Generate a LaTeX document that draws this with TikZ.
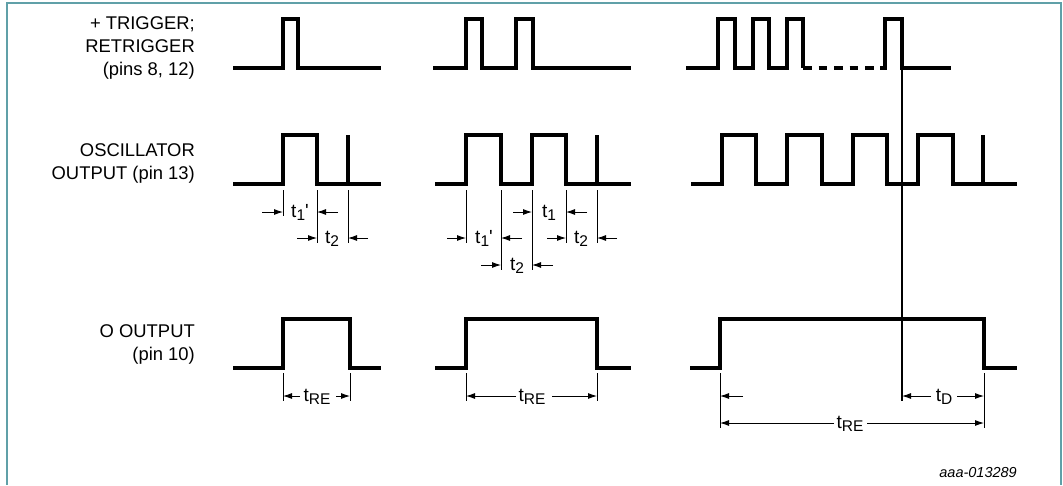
\documentclass[tikz,border=0pt]{standalone}
\usepackage{fontspec}
\setmainfont{Liberation Sans}
\usetikzlibrary{arrows.meta}
\definecolor{framecol}{RGB}{96,160,168}
\newcommand{\tsub}[2][]{t\raisebox{-3.5pt}{\fontsize{15.5}{15.5}\selectfont #2}#1}
\tikzset{
  wave/.style={line width=3.1pt},
  dimline/.style={line width=0.9pt},
  dimarrow/.style={dimline, -{Latex[length=9pt,width=6pt]}},
  sigtext/.style={font=\fontsize{18.4}{23}\selectfont, align=right, anchor=north east, inner sep=0pt},
  tlabel/.style={font=\fontsize{19}{20}\selectfont, anchor=base, inner sep=0pt},
}
\begin{document}
\begin{tikzpicture}[x=1pt,y=-1pt]
\useasboundingbox (0,0) rectangle (1063,485);
% frame
\draw[framecol, line width=1.5pt] (7,485) -- (7,3) -- (1061,3) -- (1061,485);
% signal names
\node[sigtext] (trig) at (195,16) {+ TRIGGER;\\RETRIGGER\\(pins 8, 12)};
\node[sigtext] (osc) at (195,143) {OSCILLATOR\\OUTPUT (pin 13)};
\node[sigtext] (qout) at (195,324) {O OUTPUT\\(pin 10)};
% trigger, left
\draw[wave] (233,68) -- (283,68) -- (283,19) -- (298,19) -- (298,68) -- (381,68);
% trigger, middle
\draw[wave] (433,68) -- (466,68) -- (466,19) -- (482,19) -- (482,68) -- (516,68)
  -- (516,19) -- (533,19) -- (533,68) -- (631,68);
% trigger, right
\draw[wave] (686,68) -- (718,68) -- (718,19) -- (735,19) -- (735,68) -- (753,68)
  -- (753,19) -- (769,19) -- (769,68) -- (787,68) -- (787,19) -- (803,19) -- (803,68);
\draw[wave, dash pattern=on 8.5pt off 7pt] (803,68) -- (885,68);
\draw[wave] (880,68) -- (885,68) -- (885,19) -- (902,19) -- (902,68) -- (951,68);
% oscillator, left
\draw[wave] (233,184) -- (283,184) -- (283,135) -- (317,135) -- (317,184) -- (381,184);
\draw[wave] (348,184) -- (348,135);
% oscillator, middle
\draw[wave] (435,184) -- (466,184) -- (466,135) -- (501,135) -- (501,184) -- (532,184)
  -- (532,135) -- (566,135) -- (566,184) -- (631,184);
\draw[wave] (597,184) -- (597,135);
% oscillator, right
\draw[wave] (691,184) -- (722,184) -- (722,135) -- (756,135) -- (756,184) -- (787,184)
  -- (787,135) -- (822,135) -- (822,184) -- (853,184) -- (853,135) -- (887,135)
  -- (887,184) -- (918,184) -- (918,135) -- (953,135) -- (953,184) -- (1017,184);
\draw[wave] (983,184) -- (983,135);
% Q output
\draw[wave] (233,368) -- (283,368) -- (283,319) -- (350,319) -- (350,368) -- (381,368);
\draw[wave] (435,368) -- (466,368) -- (466,319) -- (597,319) -- (597,368) -- (631,368);
\draw[wave] (690,368) -- (720,368) -- (720,319) -- (984,319) -- (984,368) -- (1017,368);
% last trigger to end of output
\draw[line width=1.1pt] (902,70) -- (902,401);
% times, left oscillator
\draw[dimline] (283,190) -- (283,216);
\draw[dimline] (317,190) -- (317,243);
\draw[dimline] (348,190) -- (348,243);
\node[tlabel] (t1l) at (300,217) {\tsub[\textquotesingle]{1}};
\draw[dimarrow] (262,212) -- (283,212);
\draw[dimarrow] (338,212) -- (317,212);
\node[tlabel] (t2l) at (332,243) {\tsub{2}};
\draw[dimarrow] (297,238) -- (317,238);
\draw[dimarrow] (368,238) -- (348,238);
% times, middle oscillator
\draw[dimline] (466,190) -- (466,243);
\draw[dimline] (501,190) -- (501,270);
\draw[dimline] (532,190) -- (532,270);
\draw[dimline] (566,190) -- (566,243);
\draw[dimline] (597,190) -- (597,243);
\node[tlabel] (t1m) at (549,217) {\tsub{1}};
\draw[dimarrow] (513,212) -- (532,212);
\draw[dimarrow] (587,212) -- (566,212);
\node[tlabel] (t1pm) at (484,243) {\tsub[\textquotesingle]{1}};
\draw[dimarrow] (447,238) -- (466,238);
\draw[dimarrow] (522,238) -- (501,238);
\node[tlabel] (t2m) at (581,243) {\tsub{2}};
\draw[dimarrow] (547,238) -- (566,238);
\draw[dimarrow] (617,238) -- (597,238);
\node[tlabel] (t2lm) at (517,270) {\tsub{2}};
\draw[dimarrow] (481,265) -- (501,265);
\draw[dimarrow] (553,265) -- (532,265);
% times, Q output
\draw[dimline] (283,373) -- (283,401);
\draw[dimline] (350,373) -- (350,401);
\node[tlabel] (trel) at (317,401) {\tsub{RE}};
\draw[dimarrow] (300,396) -- (283,396);
\draw[dimarrow] (336,396) -- (350,396);
\draw[dimline] (466,373) -- (466,401);
\draw[dimline] (597,373) -- (597,401);
\node[tlabel] (trem) at (532,401) {\tsub{RE}};
\draw[dimarrow] (516,396) -- (466,396);
\draw[dimarrow] (552,396) -- (597,396);
\draw[dimline] (720,373) -- (720,428);
\draw[dimline] (984,373) -- (984,428);
\draw[dimarrow] (743,396) -- (720,396);
\node[tlabel] (tdr) at (944,401) {\tsub{D}};
\draw[dimarrow] (931,396) -- (902,396);
\draw[dimarrow] (957,396) -- (984,396);
\node[tlabel] (trer) at (850,428) {\tsub{RE}};
\draw[dimarrow] (834,423) -- (720,423);
\draw[dimarrow] (867,423) -- (984,423);
% figure number
\node[font=\fontsize{14.5}{14.5}\selectfont\itshape, anchor=east, inner sep=0pt] (fig) at (1017,473) {aaa-013289};
\end{tikzpicture}
\end{document}
